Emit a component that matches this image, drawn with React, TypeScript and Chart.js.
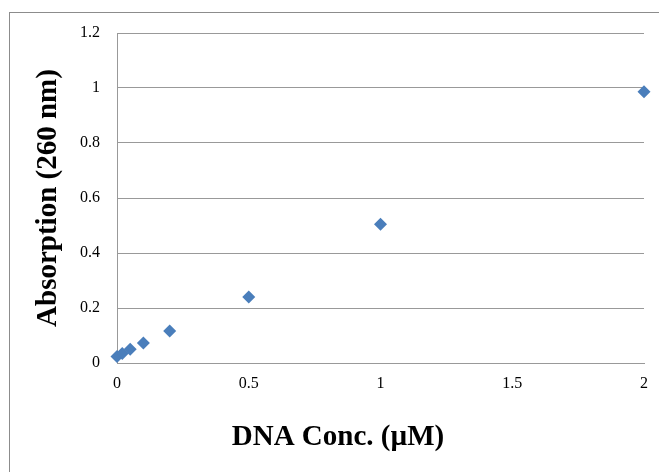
import React, { useEffect, useRef } from "react";
import { Chart, registerables } from "chart.js";

Chart.register(...registerables);

const concentrations = [0, 0.02, 0.05, 0.1, 0.2, 0.5, 1, 2];
const absorptions = [0.024, 0.035, 0.05, 0.073, 0.116, 0.24, 0.505, 0.986];
const xTickValues = [0, 0.5, 1, 1.5, 2];
const xTickLabels = ["0", "0.5", "1", "1.5", "2"];
const yTickValues = [0, 0.2, 0.4, 0.6, 0.8, 1, 1.2];
const yTickLabels = ["0", "0.2", "0.4", "0.6", "0.8", "1", "1.2"];

const xTitle = "DNA Conc. (\u00B5M)";
const yTitle = "Absorption (260 nm)";

const SERIF = "'Liberation Serif', 'Times New Roman', serif";

const labelFor = (vals: number[], labels: string[], v: number) => {
  const i = vals.findIndex((t) => Math.abs(t - v) < 1e-6);
  return i >= 0 ? labels[i] : "";
};

const frame = {
  id: "frame",
  beforeDraw(chart: any) {
    const ctx = chart.ctx;
    ctx.save();
    ctx.fillStyle = "#ffffff";
    ctx.fillRect(0, 0, chart.width, chart.height);
    ctx.strokeStyle = "#8c8c8c";
    ctx.lineWidth = 1;
    ctx.strokeRect(9.5, 12.5, chart.width + 20, chart.height + 20);
    ctx.restore();
  },
};

export default function App() {
  const ref = useRef<HTMLCanvasElement>(null);
  useEffect(() => {
    const canvas = ref.current;
    if (!canvas) return;
    const chart = new Chart(canvas, {
      type: "scatter",
      data: {
        datasets: [
          {
            data: concentrations.map((x, i) => ({ x, y: absorptions[i] })),
            backgroundColor: "#4A7EBB",
            borderColor: "#4A7EBB",
            borderWidth: 0,
            pointStyle: "rectRot",
            pointRadius: 6.5,
            pointHoverRadius: 6.5,
            clip: false as any,
          },
        ],
      },
      options: {
        responsive: false,
        animation: false,
        events: [],
        layout: { padding: { left: 31, top: 33, right: 14, bottom: 0 } },
        plugins: {
          legend: { display: false },
          tooltip: { enabled: false },
          title: {
            display: true,
            position: "bottom",
            text: xTitle,
            color: "#000000",
            padding: { top: 0, bottom: 16.6 },
            font: { family: SERIF, size: 29, weight: "bold" },
          },
        },
        scales: {
          x: {
            type: "linear",
            min: 0,
            max: 2,
            afterFit: (s: any) => {
              s.height = 57.6;
            },
            afterBuildTicks: (s: any) => {
              s.ticks = xTickValues.map((v) => ({ value: v }));
            },
            grid: { display: false, drawTicks: false },
            border: { display: true, color: "#999999", width: 1 },
            ticks: {
              padding: 11,
              color: "#000000",
              maxRotation: 0,
              font: { family: SERIF, size: 16 },
              callback: (v: any) => labelFor(xTickValues, xTickLabels, Number(v)),
            },
          },
          y: {
            type: "linear",
            min: 0,
            max: 1.2,
            afterFit: (s: any) => {
              s.width = 86;
            },
            afterBuildTicks: (s: any) => {
              s.ticks = yTickValues.map((v) => ({ value: v }));
            },
            grid: { display: true, color: "#999999", lineWidth: 1, drawTicks: false },
            border: { display: true, color: "#999999", width: 1 },
            ticks: {
              padding: 17,
              color: "#000000",
              font: { family: SERIF, size: 16 },
              callback: (v: any) => labelFor(yTickValues, yTickLabels, Number(v)),
            },
            title: {
              display: true,
              text: yTitle,
              color: "#000000",
              padding: { top: 0, bottom: 0 },
              font: { family: SERIF, size: 29, weight: "bold" },
            },
          },
        },
      },
      plugins: [frame],
    });
    return () => chart.destroy();
  }, []);
  return (
    <div style={{ position: "fixed", left: 0, top: 0, width: 659, height: 472, background: "#fff" }}>
      <canvas ref={ref} width={659} height={472} style={{ display: "block" }} />
    </div>
  );
}
